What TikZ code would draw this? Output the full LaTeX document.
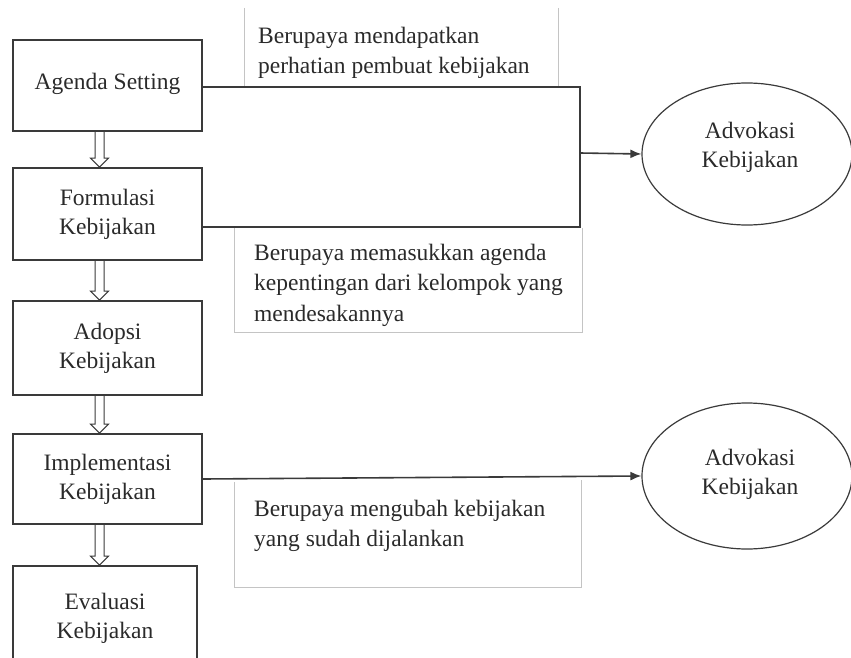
\documentclass[tikz,border=0pt]{standalone}
\usepackage{fontspec}
\setmainfont{Liberation Serif}
\usetikzlibrary{arrows.meta,shapes.geometric,calc}
\definecolor{boxc}{HTML}{3A3A3A}
\definecolor{txt}{HTML}{2A2A2A}
\definecolor{thin}{HTML}{C4C4C4}
\begin{document}
\begin{tikzpicture}[x=1pt,y=-1pt,
  stage/.style={draw=boxc, line width=1.8pt, minimum width=189pt, inner sep=0pt,
    align=center, font=\fontsize{23.5}{29}\selectfont, text=txt},
  lbl/.style={inner sep=0pt, align=center, font=\fontsize{23.5}{29}\selectfont, text=txt},
  note/.style={inner sep=0pt, align=left, anchor=west, font=\fontsize{23.5}{30.5}\selectfont, text=txt},
  ell/.style={ellipse, draw=boxc, line width=1.2pt, minimum width=210pt, inner sep=0pt},
  hollow/.style={draw=boxc, line width=1pt, line join=miter, to path={
    let \p1=(\tikztostart), \p2=(\tikztotarget) in
    (\x1-4.5pt,\y1) -- (\x1-4.5pt,\y2+9pt) -- (\x1-9pt,\y2+9pt) -- (\x1,\y2)
    -- (\x1+9pt,\y2+9pt) -- (\x1+4.5pt,\y2+9pt) -- (\x1+4.5pt,\y1)}},
  conn/.style={draw=boxc, line width=1.8pt},
  arr/.style={draw=boxc, line width=1.6pt, -{Latex[length=11pt,width=9pt]}},
  thinline/.style={draw=thin, line width=1pt}]
\useasboundingbox (0,0) rectangle (851,658);

% text boxes (light frames)
\node[note] (t1) at (258,53) {Berupaya mendapatkan\\perhatian pembuat kebijakan};
\coordinate (t1a) at (244,8);
\coordinate (t1b) at (244,87);
\coordinate (t1c) at (558,8);
\coordinate (t1d) at (558,87);
\draw[thinline] (t1a) -- (t1b) (t1c) -- (t1d);

\node[note] (t2) at (254,285) {Berupaya memasukkan agenda\\kepentingan dari kelompok yang\\mendesakannya};
\coordinate (t2a) at (234,228);
\coordinate (t2b) at (234,332);
\coordinate (t2c) at (582,332);
\coordinate (t2d) at (582,228);
\draw[thinline] (t2a) -- (t2b) -- (t2c) -- (t2d);

\node[note] (t3) at (254,526) {Berupaya mengubah kebijakan\\yang sudah dijalankan};
\coordinate (t3a) at (234,482);
\coordinate (t3b) at (234,587);
\coordinate (t3c) at (581,587);
\coordinate (t3d) at (581,480);
\draw[thinline] (t3a) -- (t3b) -- (t3c) -- (t3d);

% stages
\node[stage, minimum height=91pt] (agenda) at (107.5,85.5) {\raisebox{8pt}{Agenda Setting}};
\node[stage, minimum height=92pt] (formulasi) at (107.5,214) {Formulasi\\Kebijakan};
\node[stage, minimum height=94pt] (adopsi) at (107.5,348) {Adopsi\\Kebijakan};
\node[stage, minimum height=90pt] (impl) at (107.5,479) {Implementasi\\Kebijakan};
\node[stage, minimum width=184pt, minimum height=104pt] (eval) at (105,618)
  {\raisebox{8pt}{\begin{tabular}{@{}c@{}}Evaluasi\\Kebijakan\end{tabular}}};

% double (hollow) arrows
\draw[hollow] ([xshift=-8pt]agenda.south) to ([xshift=-8pt]formulasi.north);
\draw[hollow] ([xshift=-8pt]formulasi.south) to ([xshift=-8pt]adopsi.north);
\draw[hollow] ([xshift=-8pt]adopsi.south) to ([xshift=-8pt]impl.north);
\draw[hollow] ([xshift=-8pt]impl.south) to ([xshift=-5.5pt]eval.north);

% advocacy ellipses
\node[ell, minimum height=142pt] (adv1) at (747,154) {};
\node[lbl] (adv1t) at (750,147) {Advokasi\\Kebijakan};
\node[ell, minimum height=146pt] (adv2) at (747,476) {};
\node[lbl] (adv2t) at (750,474) {Advokasi\\Kebijakan};

% bracket connector
\coordinate (r1) at (580,87);
\coordinate (r2) at (580,227);
\coordinate (m1) at (580,153);
\draw[conn] (agenda.east |- r1) -- (r1) -- (r2) -- (formulasi.east |- r2);
\draw[arr] (m1) -- (adv1.west);

% implementation connector
\draw[arr] (impl.east) -- (adv2.west);
\end{tikzpicture}
\end{document}
